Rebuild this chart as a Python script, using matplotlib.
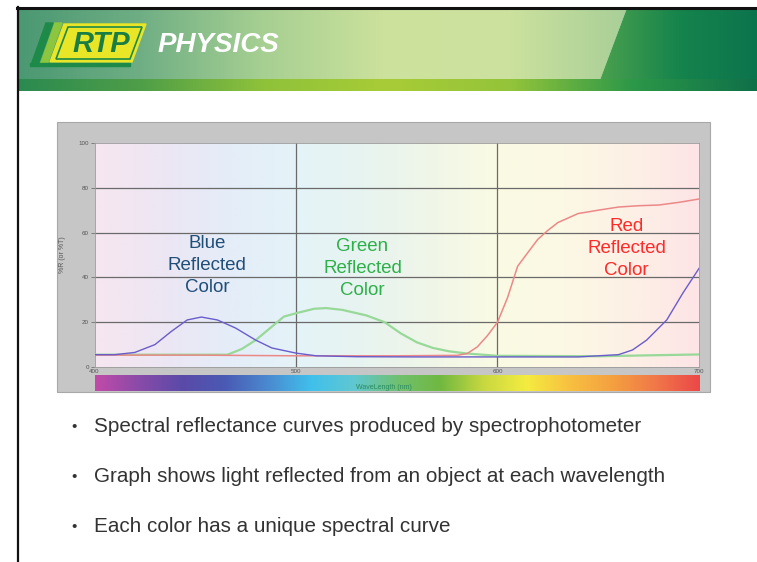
import numpy as np
import matplotlib.pyplot as plt
from matplotlib.colors import LinearSegmentedColormap
from matplotlib.patches import Rectangle, Polygon

plt.rcParams['font.family'] = ['Liberation Sans', 'DejaVu Sans']

W, H = 757, 562

# spectral reflectance readings (%R) per curve
blue_nm = [400, 410, 420, 430, 438, 446, 453, 461, 470, 480, 488, 500, 510, 530, 560, 600, 640, 660, 667, 674, 684, 692, 700]
blue_pct = [5.5, 5.5, 6.5, 10, 15.8, 21, 22.3, 21, 17.4, 12, 8.5, 6.2, 5, 4.6, 4.5, 4.5, 4.5, 5.5, 7.6, 12, 21, 33, 44]

green_nm = [400, 430, 466, 473, 480, 488, 494, 500, 509, 515, 523, 535, 544, 552, 560, 568, 576, 585, 600, 650, 700]
green_pct = [5.5, 5.5, 5.5, 8, 12, 18, 22.5, 24, 26, 26.3, 25.5, 23, 20, 15, 11, 8.5, 7, 6, 5, 4.8, 5.6]

red_nm = [400, 450, 500, 550, 580, 585, 590, 595, 600, 605, 610, 615, 620, 625, 630, 640, 650, 660, 670, 680, 690, 700]
red_pct = [5.3, 5.3, 5, 5, 5.2, 6, 9, 14, 20, 31, 45, 51, 57, 61, 64.5, 68.5, 70, 71.4, 72, 72.3, 73.5, 75]

y_ticks = [0, 20, 40, 60, 80, 100]
x_ticks = [400, 500, 600, 700]

bullets = [
    "Spectral reflectance curves produced by spectrophotometer",
    "Graph shows light reflected from an object at each wavelength",
    "Each color has a unique spectral curve",
]


def hgrad(ax, x0, x1, y0, y1, colors, clip=None, z=1):
    cmap = LinearSegmentedColormap.from_list('g', colors)
    im = ax.imshow(np.linspace(0, 1, 256)[None, :], cmap=cmap, extent=[x0, x1, y1, y0],
                   aspect='auto', zorder=z, interpolation='bilinear')
    if clip is not None:
        ax.add_patch(clip)
        clip.set_visible(False)
        im.set_clip_path(clip)
    return im


fig = plt.figure(figsize=(W / 100, H / 100), dpi=100)
bg = fig.add_axes([0, 0, 1, 1])
bg.set_xlim(0, W)
bg.set_ylim(H, 0)
bg.axis('off')

# header band
left_poly = Polygon([(17, 8), (627, 8), (600, 80), (17, 80)], closed=True, transform=bg.transData)
hgrad(bg, 17, 627, 8, 80, ['#4a9872', '#6fae84', '#a6cf92', '#cbe19c', '#cde29e', '#a9cf98'], clip=left_poly)
right_poly = Polygon([(627, 8), (757, 8), (757, 80), (600, 80)], closed=True, transform=bg.transData)
hgrad(bg, 600, 757, 8, 80, ['#4aa04e', '#16844c', '#0c744c'], clip=right_poly)
hgrad(bg, 17, 757, 79, 91, ['#2a8a50', '#4f9e48', '#8fc23a', '#a8cc36', '#94c43a', '#2c9848', '#0f7048'])
bg.plot([17, 757], [7.5, 7.5], color='#111111', lw=2.2, zorder=5)
bg.plot([17.5, 17.5], [7, 562], color='#111111', lw=1.6, zorder=5)

# logo
bg.add_patch(Polygon([(31, 65), (46, 23), (53, 23), (38, 65)], color='#1e8a4a', zorder=3))
bg.add_patch(Polygon([(40, 65), (55, 23), (62, 23), (47, 65)], color='#8cc63f', zorder=3))
bg.add_patch(Polygon([(50, 62), (64, 24), (146, 24), (132, 62)], color='#e8e626', zorder=3))
bg.add_patch(Polygon([(56, 59), (68, 27), (142, 27), (130, 59)], fill=False, ec='#1e8a4a', lw=1.2, zorder=4))
bg.add_patch(Rectangle((30, 63), 100, 3, color='#1e8a4a', zorder=3))
bg.text(101, 44, 'RTP', fontsize=21, fontweight='bold', fontstyle='italic', color='#1a7e44',
        ha='center', va='center', zorder=5)
bg.text(158, 45, 'PHYSICS', fontsize=20, fontweight='bold', fontstyle='italic', color='white',
        ha='left', va='center', zorder=5)

# chart panel
bg.add_patch(Rectangle((57, 122), 653, 270, fc='#c6c6c6', ec='#a8a8a8', lw=0.8, zorder=1))

ax = fig.add_axes([94.5 / W, 1 - 367 / H, (699 - 94.5) / W, (367 - 143) / H])
ax.set_xlim(400, 700)
ax.set_ylim(0, 100)
bg_cols = ['#f6e6f0', '#ede6f4', '#e4edf8', '#e4f3f8', '#e8f4f0', '#f0f6e8', '#fafbe4',
           '#fcf8e4', '#fdf0e6', '#fde4e6']
cmap = LinearSegmentedColormap.from_list('bgc', bg_cols)
ax.imshow(np.linspace(0, 1, 256)[None, :], cmap=cmap, extent=[400, 700, 0, 100],
          aspect='auto', zorder=0, interpolation='bilinear')
for yv in y_ticks[1:-1]:
    ax.axhline(yv, color='#6a6a6a', lw=0.9, zorder=1)
for xv in x_ticks[1:-1]:
    ax.axvline(xv, color='#6a6a6a', lw=0.9, zorder=1)

ax.plot(green_nm, green_pct, color='#98d898', lw=1.6, zorder=3)
ax.plot(red_nm, red_pct, color='#ec8888', lw=1.1, zorder=3)
ax.plot(blue_nm, blue_pct, color='#6a5ccc', lw=1.0, zorder=4)

ax.set_yticks(y_ticks)
ax.set_xticks(x_ticks)
ax.tick_params(axis='both', labelsize=4.5, colors='#707070', labelcolor='#555555', length=3, pad=1, width=0.6)
ax.tick_params(axis='x', length=0, pad=1.5)
for s in ax.spines.values():
    s.set_color('#9a9a9a')
    s.set_linewidth(0.6)
ax.set_ylabel('%R (or %T)', fontsize=5, color='#555555', labelpad=9)

lbl = dict(fontsize=13.5, ha='center', va='center', linespacing=1.38, zorder=5)
ax.text(456, 45.5, 'Blue\nReflected\nColor', color='#1f4e79', **lbl)
ax.text(533, 44, 'Green\nReflected\nColor', color='#2db04a', **lbl)
ax.text(664, 53, 'Red\nReflected\nColor', color='#ff2a2a', **lbl)

# wavelength colour bar
sb = fig.add_axes([94.5 / W, 1 - 391 / H, (699 - 94.5) / W, 16 / H])
spec_cols = ['#c04aa8', '#8a4aa8', '#5a4aa8', '#4a5ab4', '#4a8ad0', '#40c0ec', '#60c8d0',
             '#70c070', '#70b840', '#c8d840', '#f4ec40', '#f8c040', '#f4a040', '#f07848', '#ec4848']
sb.imshow(np.linspace(0, 1, 256)[None, :], cmap=LinearSegmentedColormap.from_list('sp', spec_cols),
          extent=[400, 700, 0, 1], aspect='auto', interpolation='bilinear')
sb.axis('off')
sb.text(0.478, 0.2, 'WaveLength (nm)', fontsize=5, color='#2a8a60', ha='center', va='center',
        transform=sb.transAxes)

# bullet points
for i, t in enumerate(bullets):
    y = 427 + 50 * i
    bg.text(74, y, '\u2022', fontsize=11, color='#333333', ha='center', va='center')
    bg.text(94, y, t, fontsize=14.9, color='#333333', ha='left', va='center')

fig.savefig('out.png', dpi=100)
